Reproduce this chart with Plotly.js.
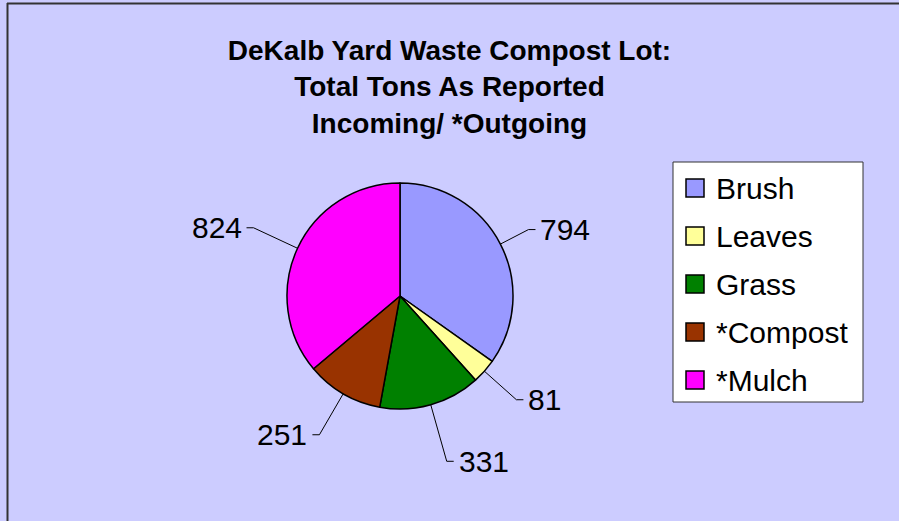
<!DOCTYPE html>
<html>
<head>
<meta charset="utf-8">
<script src="https://cdn.plot.ly/plotly-3.0.1.min.js"></script>
<style>html,body{margin:0;padding:0;background:#CCCCFF;}#chart{width:899px;height:521px;}</style>
</head>
<body>
<div id="chart"></div>
<script>
// ---- data ----
var categories = ["Brush", "Leaves", "Grass", "*Compost", "*Mulch"];
var tons = [794, 81, 331, 251, 824];
var sliceColors = ["#9999FF", "#FFFF99", "#008000", "#993300", "#FF00FF"];
var titleLines = ["DeKalb Yard Waste Compost Lot:", "Total Tons As Reported", "Incoming/ *Outgoing"];

// ---- layout settings (not data) ----
var W = 899, H = 521;
var cx = 400, cy = 296, R = 113;          // pie centre / radius in px
var labelDist = [1.28, 1.38, 1.52, 1.42, 1.43]; // leader elbow distance (x R)
var stub = 7;
var legendBox = {x0: 673, y0: 162, x1: 863, y1: 402};
var legendFirstY = 188, legendStep = 48, swatch = 18, swatchX = 686, legendTextX = 714;

function px(x){ return x / W; }
function py(y){ return 1 - y / H; }

var shapes = [];
var annotations = [];

// chart frame (top and left edges)
shapes.push({type:'line', xref:'paper', yref:'paper', x0:px(7), y0:py(3.5), x1:1, y1:py(3.5), line:{color:'#333333', width:2}});
shapes.push({type:'line', xref:'paper', yref:'paper', x0:px(7.5), y0:py(3), x1:px(7.5), y1:0, line:{color:'#333333', width:2}});

// leader lines + value labels derived from the values
var total = tons.reduce(function(a,b){return a+b;}, 0);
var cum = 0;
for (var i = 0; i < tons.length; i++) {
  var mid = (cum + tons[i] / 2) / total * 2 * Math.PI; // clockwise from 12 o'clock
  cum += tons[i];
  var sx = Math.sin(mid), sy = -Math.cos(mid);
  var ex = cx + R * sx, ey = cy + R * sy;
  var bx = cx + R * labelDist[i] * sx, by = cy + R * labelDist[i] * sy;
  var right = sx >= 0;
  var tx = bx + (right ? stub : -stub);
  shapes.push({type:'path', xref:'paper', yref:'paper',
    path: 'M' + px(ex) + ',' + py(ey) + ' L' + px(bx) + ',' + py(by) + ' L' + px(tx) + ',' + py(by),
    line:{color:'#000000', width:1}});
  annotations.push({xref:'paper', yref:'paper', x: px(tx + (right ? 3 : -3)), y: py(by),
    xanchor: right ? 'left' : 'right', yanchor:'middle', showarrow:false,
    text: String(tons[i]), font:{family:'Liberation Sans, Arial, sans-serif', size:30, color:'#000000'}});
}

// legend (box, swatches, labels) built from categories / colours
shapes.push({type:'rect', xref:'paper', yref:'paper', x0:px(legendBox.x0), y0:py(legendBox.y0), x1:px(legendBox.x1), y1:py(legendBox.y1),
  fillcolor:'#FFFFFF', line:{color:'#333333', width:1}});
for (var j = 0; j < categories.length; j++) {
  var yc = legendFirstY + j * legendStep;
  shapes.push({type:'rect', xref:'paper', yref:'paper', x0:px(swatchX), y0:py(yc - swatch/2), x1:px(swatchX + swatch), y1:py(yc + swatch/2),
    fillcolor:sliceColors[j], line:{color:'#000000', width:1.5}});
  annotations.push({xref:'paper', yref:'paper', x:px(legendTextX), y:py(yc), xanchor:'left', yanchor:'middle', showarrow:false,
    text: categories[j], font:{family:'Liberation Sans, Arial, sans-serif', size:30, color:'#000000'}});
}

var trace = {
  type:'pie',
  labels: categories,
  values: tons,
  sort:false,
  direction:'clockwise',
  rotation:0,
  textinfo:'none',
  hoverinfo:'label+value',
  marker:{colors: sliceColors, line:{color:'#000000', width:1.5}},
  domain:{x:[px(cx - R), px(cx + R)], y:[py(cy + R), py(cy - R)]},
  showlegend:false
};

var layout = {
  width:W, height:H,
  margin:{l:0, r:0, t:0, b:0},
  paper_bgcolor:'#CCCCFF',
  plot_bgcolor:'#CCCCFF',
  showlegend:false,
  title:{text: titleLines.join('<br>'), x:0.5, xanchor:'center', xref:'paper', y:1 - 60/H, yref:'container', yanchor:'top',
    font:{family:'Liberation Sans, Arial, sans-serif', size:28, color:'#000000', weight:'bold'}},
  shapes: shapes,
  annotations: annotations
};

Plotly.newPlot('chart', [trace], layout, {displayModeBar:false, staticPlot:true});
</script>
</body>
</html>
